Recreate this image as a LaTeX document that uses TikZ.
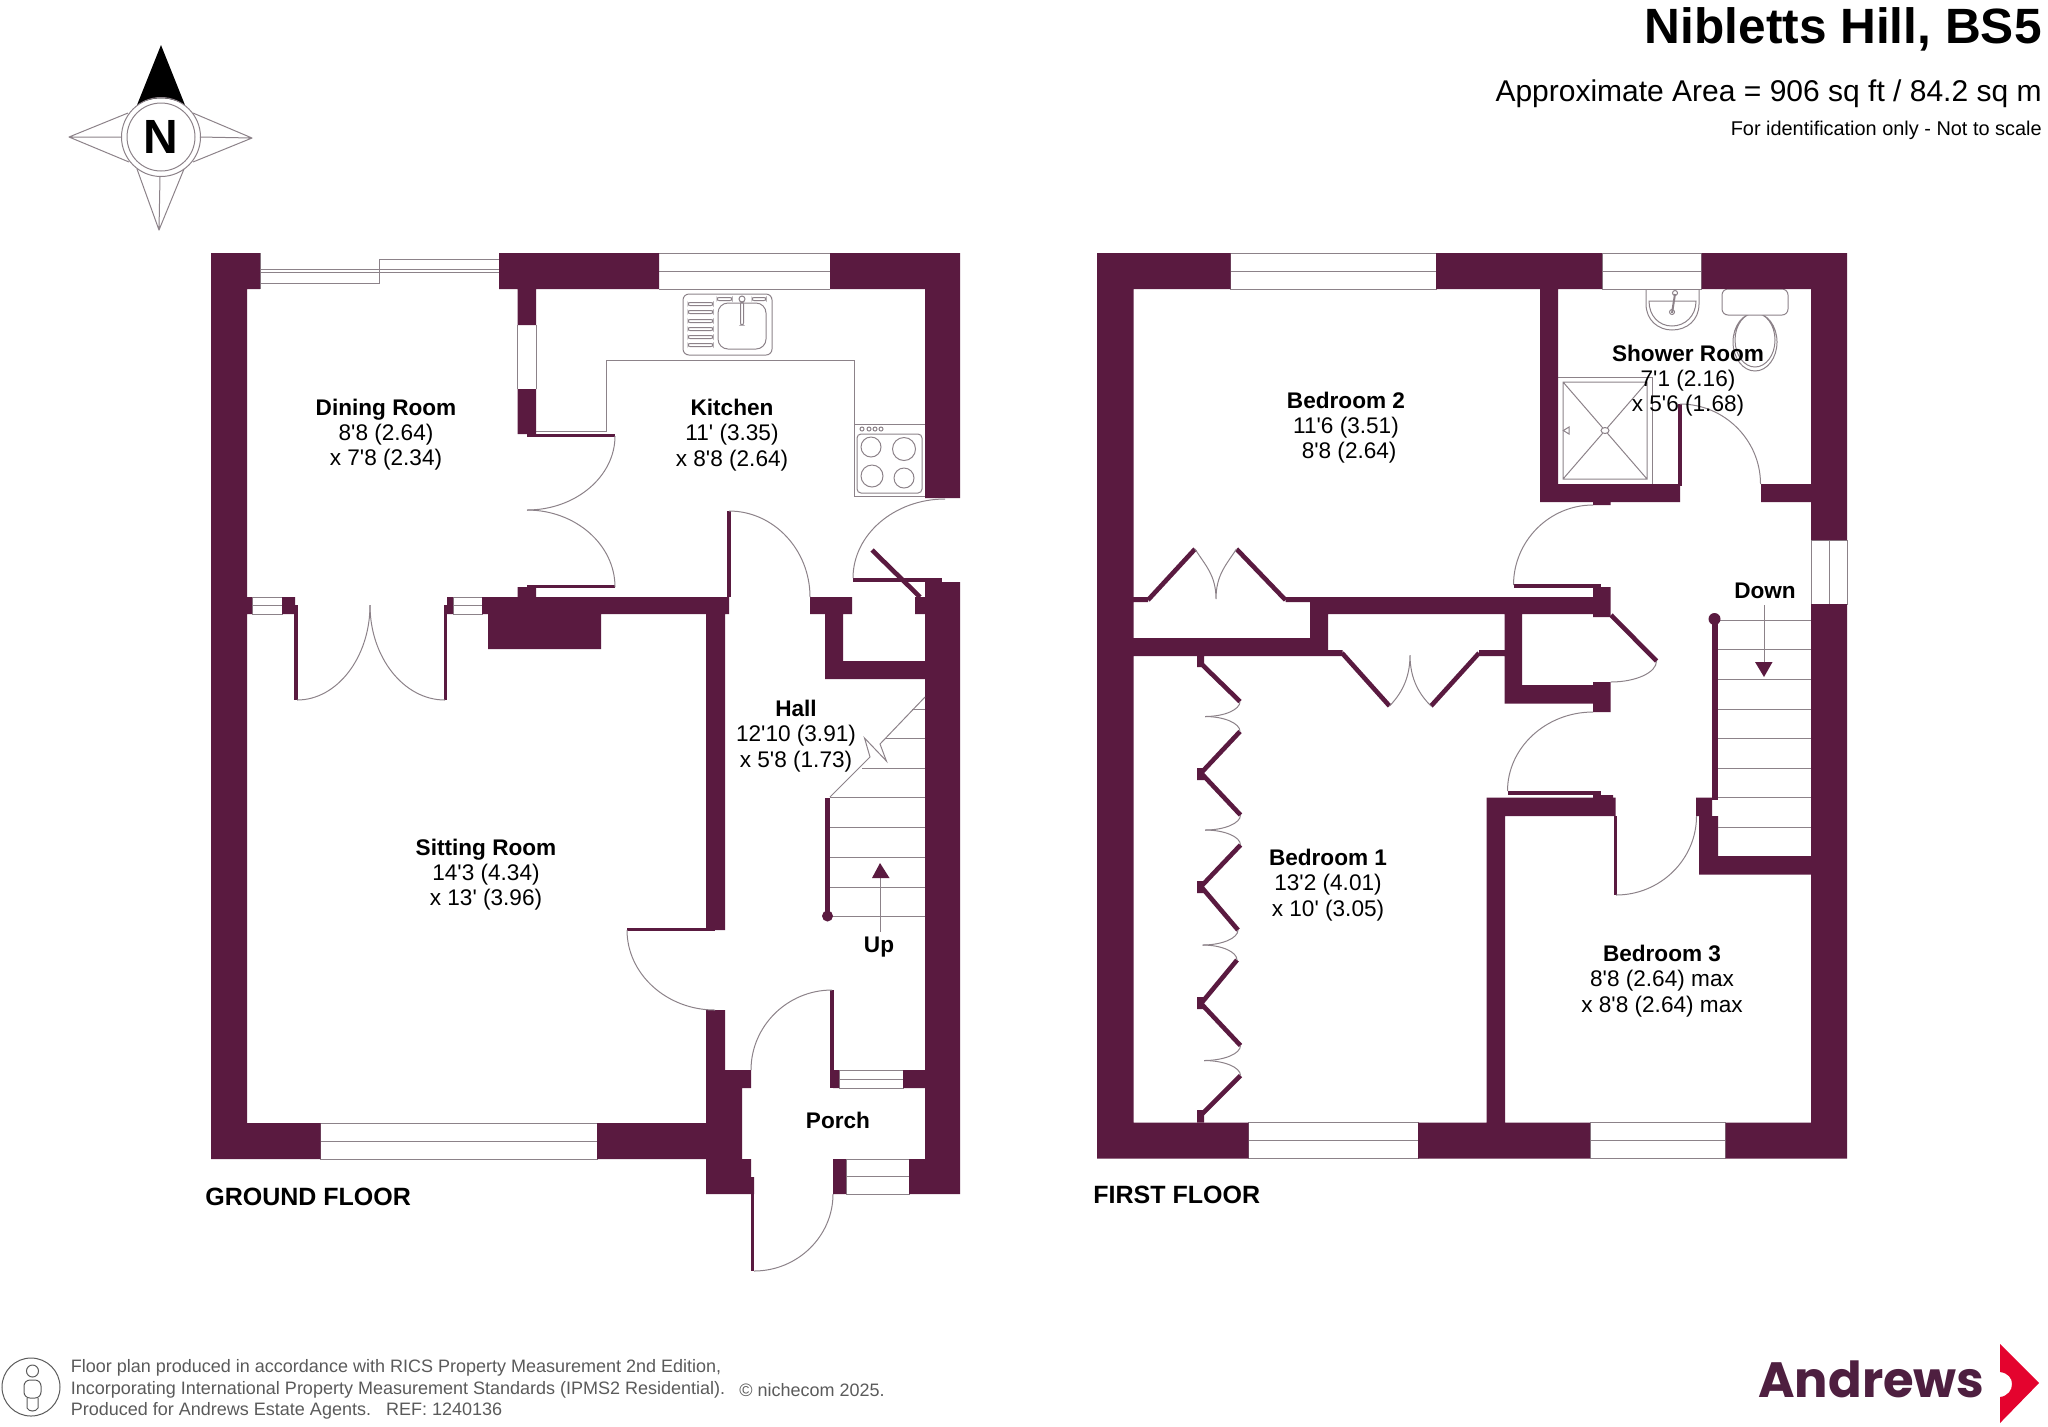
\documentclass[tikz,border=0pt]{standalone}
\usepackage{fontspec}
\setmainfont{Liberation Sans}
\newfontfamily\plainfont{Liberation Sans}
\newfontfamily\logofont{Poppins}
\usetikzlibrary{positioning}
\definecolor{wallcol}{HTML}{5A1A40}
\definecolor{finecol}{HTML}{8C8289}
\definecolor{notecol}{HTML}{5A5A5A}
\definecolor{logocol}{HTML}{4E1F40}
\definecolor{arrowcol}{HTML}{E4032E}
\tikzset{wall/.style={fill=wallcol,draw=none},
fine/.style={draw=finecol,line width=0.5pt},
leaf/.style={draw=wallcol,line width=1.7pt},
slant/.style={draw=wallcol,line width=2.3pt},
room/.style={align=center,inner sep=0pt,text=black,font=\plainfont\fontsize{11.3}{12.6}\selectfont},
floorname/.style={inner sep=0pt,anchor=west,font=\fontsize{12.5}{14}\selectfont\bfseries},
footnote/.style={inner sep=0pt,anchor=west,text=notecol,font=\fontsize{9}{11}\selectfont}
}
\newcommand\swing[4]{\draw[fine] (#1,#2) .. controls (#1,{#2+.55*(#4-#2)}) and ({#3-.55*(#3-#1)},#4) .. (#3,#4);}
\newcommand\winh[4]{\draw[fine,fill=white] (#1,#3) rectangle (#2,#4) (#1,{(#3+#4)/2}) -- (#2,{(#3+#4)/2});}
\begin{document}
\begin{tikzpicture}[x=0.5pt,y=-0.5pt]
\useasboundingbox (0,0) rectangle (2048,1426);

% compass
\fill[black] (161,45) -- (185,105) .. controls (170,96) and (152,96) .. (137,105) -- cycle;
\draw[fine,line join=round] (128,113) -- (69,137) -- (129,162) (69,137) -- (121,137)
      (193,113) -- (252,138) -- (193,162) (252,138) -- (200,137)
      (137,169) -- (159,230) -- (184,169) (159,230) -- (160,177);
\draw[fine] (161,137) circle (39.5) (161,137) circle (34);
\node[inner sep=0pt,font=\fontsize{24}{24}\selectfont\bfseries] (north) at (161,137) {N};

% title
\node[inner sep=0pt,anchor=east,font=\fontsize{24.8}{26}\selectfont\bfseries] (title) at (2042,29) {Nibletts Hill, BS5};
\node[inner sep=0pt,anchor=east,font=\fontsize{15}{17}\selectfont] (area) at (2042,94) {Approximate Area = 906 sq ft / 84.2 sq m};
\node[inner sep=0pt,anchor=east,font=\fontsize{9.95}{11}\selectfont] (scale) at (2042,130) {For identification only - Not to scale};

% ground floor fittings
\draw[fine] (260,269.5) -- (499,269.5) (260,272.5) -- (499,272.5) (260,283) -- (379,283) -- (379,259) -- (499,259);
\draw[fine] (260,253) -- (260,289) (499,253) -- (499,289);
\draw[fine] (659,253) -- (830,253) (659,271) -- (830,271) (659,289) -- (830,289);
\draw[fine] (517.5,325) -- (517.5,389) (536,325) -- (536,389);
\draw[fine] (536,431) -- (606,431) -- (606,360) -- (854,360) -- (854,496) -- (925,496) (854,424) -- (925,424);
\draw[fine,rounded corners=2pt] (857,434) rectangle (922,493);
\draw[fine] (871,447) circle (10) (904,449) circle (11.5) (872,476) circle (11) (904,478) circle (10);
\foreach \x in {862,869,875,881} \draw[fine] (\x,429) circle (2);
\draw[fine,rounded corners=3pt] (683,294) rectangle (772,355);
\draw[fine,rounded corners=5pt] (718,303) rectangle (766,349);
\foreach \y in {304,312,321,329,337,345} \draw[fine,rounded corners=1pt] (688,\y-1.5) rectangle (713,\y+1.5);
\draw[fine,rounded corners=1pt] (717,297.5) rectangle (732,300.5) (752,297.5) rectangle (766,300.5) (740.5,302) rectangle (743.5,325);
\draw[fine] (742,299) circle (3);
\winh{252}{282}{597}{614}
\winh{453}{482}{597}{614}
\winh{320.5}{597}{1123}{1159}
\winh{839}{903}{1070}{1088}
\winh{846}{909}{1159}{1194}

% ground floor walls
\fill[wall] (211,253) rectangle (247,1159)
      (211,253) rectangle (260,289)
      (211,1123) rectangle (320.5,1159)
      (597,1123) rectangle (706,1159)
      (499,253) rectangle (659,289)
      (830,253) rectangle (960,289)
      (925,253) rectangle (960,498)
      (517.5,289) rectangle (536,325)
      (517.5,389) rectangle (536,434)
      (247,597) rectangle (252,614)
      (282,597) rectangle (295,614)
      (447,597) rectangle (453,614)
      (482,597) rectangle (729,614)
      (488,614) rectangle (601,649)
      (517.5,587) rectangle (536,597)
      (810,597) rectangle (852,614)
      (825,614) rectangle (843,679)
      (825,661) rectangle (925,679)
      (915,597) rectangle (925,614)
      (925,582) rectangle (960,1194)
      (706,614) rectangle (725,930)
      (706,1010) rectangle (725,1070)
      (706,1070) rectangle (751,1088)
      (706,1088) rectangle (742,1159)
      (706,1159) rectangle (751,1194)
      (751,1177) rectangle (754,1194)
      (903,1070) rectangle (925,1088)
      (833,1070) rectangle (839,1088)
      (833,1159) rectangle (846,1194)
      (909,1159) rectangle (960,1194);

% ground floor doors
\draw[leaf] (527,435.5) -- (615,435.5) (527,586.5) -- (615,586.5)
      (296,605) -- (296,700) (445.5,605) -- (445.5,700)
      (729,511) -- (729,597) (853,580) -- (942,580)
      (627,929.5) -- (715,929.5) (832,990) -- (832,1088) (752.5,1177) -- (752.5,1271);
\draw[slant] (872,550) -- (920,597);
\swing{615}{436}{527}{510}
\swing{615}{587}{527}{510}
\swing{370}{605}{297}{700}
\swing{370}{605}{445}{700}
\swing{853}{578}{945}{499}
\swing{810}{597}{729}{511}
\swing{627}{930}{715}{1010}
\swing{751}{1070}{832}{990}
\swing{833}{1194}{754}{1271}

% ground floor stairs
\foreach \y in {797,827,857,887,916} \draw[fine] (830,\y) -- (925,\y);
\draw[fine] (862,768) -- (925,768) (886,738) -- (925,738) (912,709) -- (925,709);
\draw[fine] (830,797) -- (870,757) -- (864.5,738) -- (886.4,761) -- (880,744) -- (925,697);
\draw[leaf,line width=2.4pt] (827.5,798) -- (827.5,916);
\fill[wallcol] (827.5,916) circle (5.5);
\draw[fine] (880,932) -- (880,878);
\fill[wallcol] (880,863) -- (889.5,878) -- (872,878) -- cycle;

% first floor fittings
\winh{1230.5}{1436}{253}{289}
\winh{1602}{1701.5}{253}{289}
\winh{1248.5}{1418}{1122.5}{1158.5}
\winh{1590}{1725.5}{1122.5}{1158.5}
\draw[fine,fill=white] (1811,540) rectangle (1847,604) (1829,540) -- (1829,604);
\draw[fine] (1558,377.5) -- (1652,377.5) -- (1652,484);
\draw[fine] (1563,382) rectangle (1647,479) (1563,382) -- (1647,479) (1647,382) -- (1563,479);
\draw[fine,fill=white] (1605,430.5) ellipse (4 and 3);
\draw[fine] (1563.3,430.5) -- (1569,427) -- (1569,434) -- cycle;
\draw[fine] (1646,289) -- (1646,304) .. controls (1646,320) and (1658,330) .. (1672,330) .. controls (1687,330) and (1699,320) .. (1699,304) -- (1699,289);
\draw[fine] (1649,301) -- (1696,301) .. controls (1696,316) and (1685,326) .. (1672,326) .. controls (1659,326) and (1649,316) .. (1649,301) -- cycle;
\draw[fine,line width=1pt] (1675,294) -- (1672,313);
\draw[fine] (1675,293) circle (2.5) (1672,312) circle (2.5);
\draw[fine] (1755,342) ellipse (22 and 29) (1755,340) ellipse (20 and 27);
\draw[fine,fill=white,rounded corners=3pt] (1722,289) rectangle (1788,315);

% first floor walls
\fill[wall] (1097,253) rectangle (1133.5,1158.5)
      (1097,253) rectangle (1230.5,289)
      (1436,253) rectangle (1602,289)
      (1701.5,253) rectangle (1847,289)
      (1811,253) rectangle (1847,540)
      (1811,604) rectangle (1847,1158.5)
      (1097,1122.5) rectangle (1248.5,1158.5)
      (1418,1122.5) rectangle (1590,1158.5)
      (1725.5,1122.5) rectangle (1847,1158.5)
      (1540,289) rectangle (1558,502)
      (1540,484) rectangle (1680,502)
      (1761,484) rectangle (1811,502)
      (1593,502) rectangle (1610.5,505)
      (1133.5,597) rectangle (1148,602)
      (1285.5,597) rectangle (1310,602)
      (1310,597) rectangle (1610.5,614)
      (1593,587) rectangle (1610.5,617)
      (1310,597) rectangle (1328,656)
      (1133.5,638) rectangle (1328,656)
      (1328,650) rectangle (1342.5,656)
      (1479,650) rectangle (1504.5,656)
      (1504.5,614) rectangle (1522,703.5)
      (1504.5,685) rectangle (1593,703.5)
      (1593,682) rectangle (1610.5,712)
      (1486.5,797.5) rectangle (1615.5,816)
      (1593,795) rectangle (1613,798)
      (1486.5,797.5) rectangle (1505,1122.5)
      (1696,797.5) rectangle (1712,816)
      (1699,816) rectangle (1718,874.5)
      (1699,856) rectangle (1811,874.5)
      (1197,656) rectangle (1204,667);

% first floor doors
\draw[leaf] (1680,404) -- (1680,486) (1514,586) -- (1601,586) (1508,793) -- (1601,793)
      (1615.5,816) -- (1615.5,895);
\draw[slant] (1148,600) -- (1195,549) (1236.5,549) -- (1285.5,600)
      (1342,653) -- (1389.5,706) (1431,706) -- (1479,653) (1611,615) -- (1656.5,661);
\draw[slant] (1202.5,665) -- (1240,701.5) (1240,731.5) -- (1201,773) -- (1240.5,815)
      (1240.5,845) -- (1201,886.5) -- (1238,930) (1237,960) -- (1201,1003.5) -- (1240.5,1045.5)
      (1240.5,1075.5) -- (1201,1115);
\fill[wallcol] (1197,768) rectangle (1204,780) (1197,881) rectangle (1204,893)
      (1197,997) rectangle (1204,1009) (1197,1110) rectangle (1204,1122.5);
\swing{1760.5}{484}{1680}{404}
\swing{1513.5}{585}{1593}{505}
\swing{1507.5}{791}{1593}{712}
\swing{1696.5}{816}{1616}{895}
\swing{1656.5}{661}{1610.5}{682}
\draw[fine] (1195,549) .. controls (1205,565) and (1216,575) .. (1216,599)
      (1236.5,549) .. controls (1226,565) and (1216,575) .. (1216,599)
      (1389.5,706) .. controls (1400,695) and (1410,680) .. (1410,655)
      (1431,706) .. controls (1420,695) and (1410,680) .. (1410,655);
\swing{1240}{701.5}{1205}{716.5}
\swing{1240}{731.5}{1205}{716.5}
\swing{1240.5}{815}{1205}{830}
\swing{1240.5}{845}{1205}{830}
\swing{1238}{930}{1202.5}{945}
\swing{1237}{960}{1202.5}{945}
\swing{1240.5}{1045.5}{1204}{1060.5}
\swing{1240.5}{1075.5}{1204}{1060.5}

% first floor stairs
\foreach \y in {620,649,679,709,738,768,797.5,827} \draw[fine] (1718,\y) -- (1811,\y);
\draw[leaf,line width=3pt] (1715,619) -- (1715,800);
\fill[wallcol] (1714.5,619) circle (6);
\draw[fine] (1764,605) -- (1764,662);
\fill[wallcol] (1764,677) -- (1755,662) -- (1772.5,662) -- cycle;

% labels
\node[room] (dining)  at (386,434.5)  {\textbf{Dining Room}\\8'8 (2.64)\\x 7'8 (2.34)};
\node[room] (kitchen) at (732,435)    {\textbf{Kitchen}\\11' (3.35)\\x 8'8 (2.64)};
\node[room] (hall)    at (796,736)    {\textbf{Hall}\\12'10 (3.91)\\x 5'8 (1.73)};
\node[room] (sitting) at (486,874.5)  {\textbf{Sitting Room}\\14'3 (4.34)\\x 13' (3.96)};
\node[room] (porch)   at (838,1120)   {\textbf{Porch}};
\node[room] (up)      at (879,947)    {\textbf{Up}};
\node[room] (down)    at (1765,591)   {\textbf{Down}};
\node[room] (bed2)    at (1346,427.5) {\textbf{Bedroom 2}\\11'6 (3.51)\\~8'8 (2.64)};
\node[room] (shower)  at (1688,380.5) {\textbf{Shower Room}\\7'1 (2.16)\\x 5'6 (1.68)};
\node[room] (bed1)    at (1328,885)   {\textbf{Bedroom 1}\\13'2 (4.01)\\x 10' (3.05)};
\node[room] (bed3)    at (1662,981)   {\textbf{Bedroom 3}\\8'8 (2.64) max\\x 8'8 (2.64) max};
\node[floorname] (ground) at (205,1197)  {GROUND FLOOR};
\node[floorname] (first)  at (1093,1195) {FIRST FLOOR};

% footer
\draw[notecol,line width=0.5pt] (31,1387) circle (29) (32.5,1371) circle (6);
\draw[notecol,line width=0.5pt,rounded corners=3pt] (24,1380) rectangle (41,1398);
\draw[notecol,line width=0.5pt] (27,1398) -- (27,1408) .. controls (29,1412) and (36,1412) .. (38,1408) -- (38,1398);
\node[footnote] (note1) at (70.5,1368) {Floor plan produced in accordance with RICS Property Measurement 2nd Edition,};
\node[footnote] (note2) at (70.5,1390) {Incorporating International Property Measurement Standards (IPMS2 Residential).};
\node[footnote] (note3) at (70.5,1411) {Produced for Andrews Estate Agents.\ \ \ REF: 1240136};
\node[footnote] (note4) at (739,1390)  {© nichecom 2025.};

% logo
\node[inner sep=0pt,anchor=base west,text=logocol,font=\logofont\fontsize{24.8}{27}\selectfont\bfseries] (logo) at (1758,1397) {Andrews};
\fill[arrowcol] (2000,1344) -- (2039,1383) -- (2000,1423) -- (2000,1397) .. controls (2008,1396) and (2012,1390) .. (2012,1384) .. controls (2012,1378) and (2008,1373) .. (2000,1372) -- cycle;
\end{tikzpicture}
\end{document}
